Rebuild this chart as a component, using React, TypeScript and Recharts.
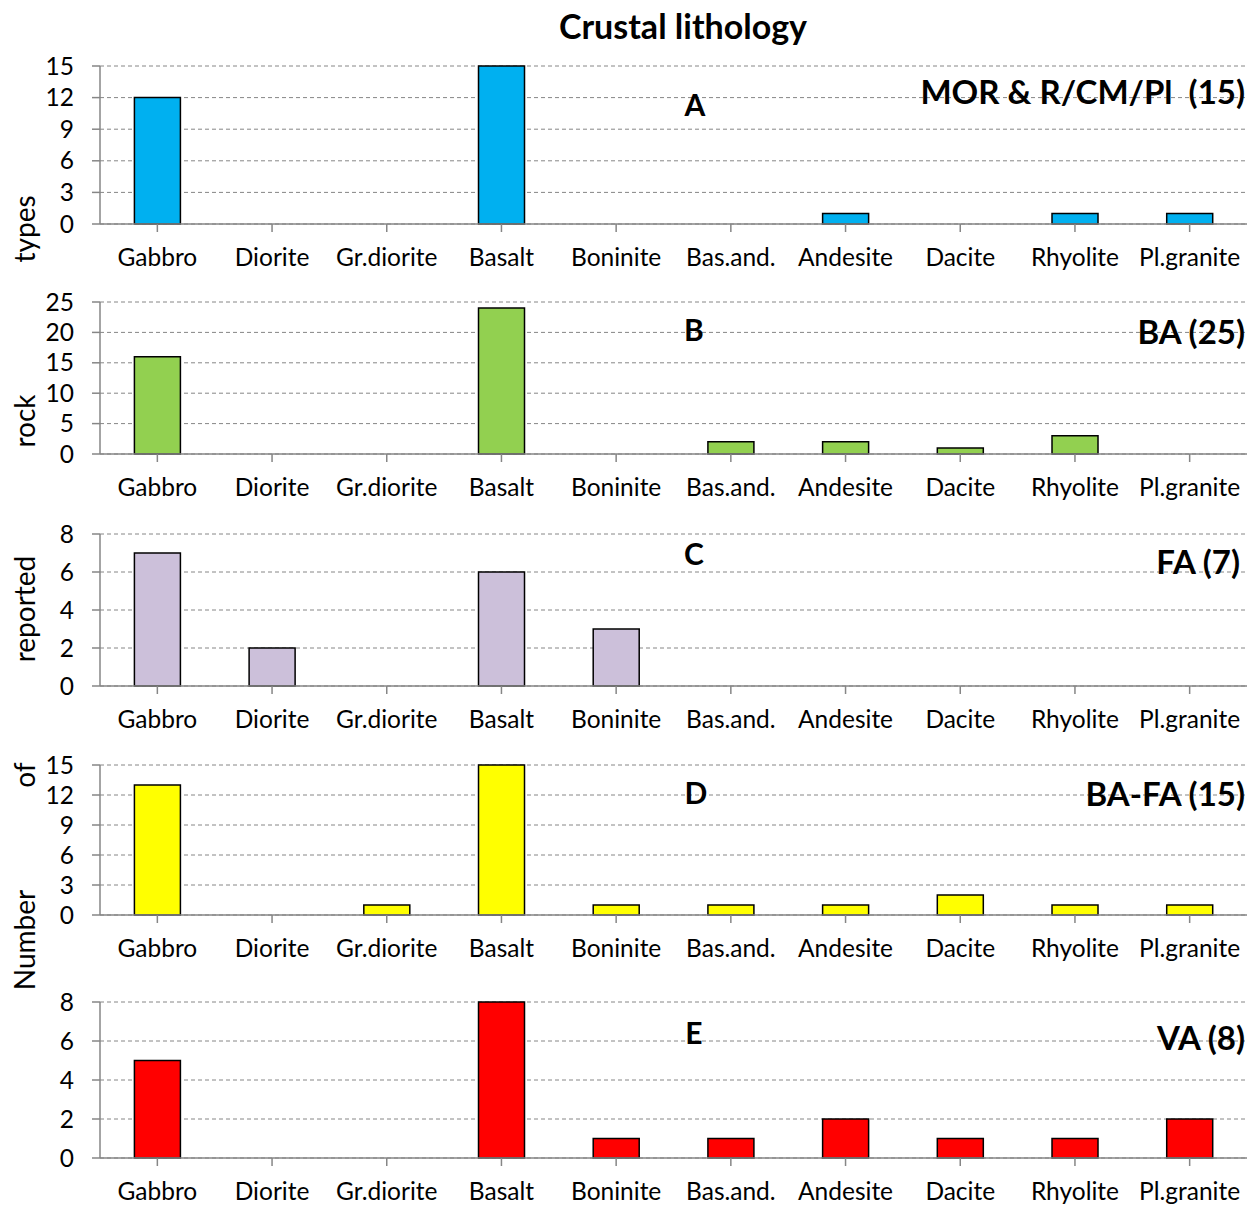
import React from "react";
import { BarChart, Bar, XAxis, YAxis, CartesianGrid } from "recharts";

const categories = ["Gabbro", "Diorite", "Gr.diorite", "Basalt", "Boninite", "Bas.and.", "Andesite", "Dacite", "Rhyolite", "Pl.granite"];
const seriesA = [12, 0, 0, 15, 0, 0, 1, 0, 1, 1];
const seriesB = [16, 0, 0, 24, 0, 2, 2, 1, 3, 0];
const seriesC = [7, 2, 0, 6, 3, 0, 0, 0, 0, 0];
const seriesD = [13, 0, 1, 15, 1, 1, 1, 2, 1, 1];
const seriesE = [5, 0, 0, 8, 1, 1, 2, 1, 1, 2];
const ticksA = [0, 3, 6, 9, 12, 15];
const ticksB = [0, 5, 10, 15, 20, 25];
const ticksC = [0, 2, 4, 6, 8];
const ticksD = [0, 3, 6, 9, 12, 15];
const ticksE = [0, 2, 4, 6, 8];
const title = "Crustal lithology";
const yLabelWords = ["Number", "of", "reported", "rock", "types"];

const FONT = "Lato, 'Open Sans', sans-serif";
const AXIS = "#868686";

type PanelProps = {
  values: number[];
  ticks: number[];
  color: string;
  top: number;
  plotTop: number;
  plotBottom: number;
  letter: string;
  letterX: number;
  letterY: number;
  tag: string;
  tagY: number;
  tagRight: number;
};

function Panel(p: PanelProps) {
  const data = categories.map((c, i) => ({ name: c, v: p.values[i] }));
  const marginTop = p.plotTop - p.top;
  const xAxisH = 56;
  const height = marginTop + (p.plotBottom - p.plotTop) + xAxisH;
  const max = p.ticks[p.ticks.length - 1];
  return (
    <div style={{ position: "absolute", left: 0, top: p.top, width: 1252, height }}>
      <BarChart
        width={1252}
        height={height}
        data={data}
        margin={{ top: marginTop, right: 5, left: 0, bottom: 0 }}
        barCategoryGap="30%"
      >
        <CartesianGrid vertical={false} stroke={AXIS} strokeDasharray="4 3" strokeWidth={1} />
        <XAxis
          dataKey="name"
          height={xAxisH}
          interval={0}
          tickSize={8}
          tickMargin={17}
          stroke={AXIS}
          strokeWidth={1.5}
          tick={{ fill: "#000", fontSize: 24.5, fontFamily: FONT }}
          tickLine={{ stroke: AXIS, strokeWidth: 1.5 }}
        />
        <YAxis
          width={100}
          domain={[0, max]}
          ticks={p.ticks}
          interval={0}
          tickSize={8}
          tickMargin={18}
          stroke={AXIS}
          strokeWidth={1.5}
          tick={{ fill: "#000", fontSize: 24.5, fontFamily: FONT }}
          tickLine={{ stroke: AXIS, strokeWidth: 1.5 }}
        />
        <Bar dataKey="v" fill={p.color} stroke="#000" strokeWidth={1.5} isAnimationActive={false} />
      </BarChart>
      <svg
        width={1252}
        height={height}
        style={{ position: "absolute", left: 0, top: 0, pointerEvents: "none" }}
      >
        <text
          x={p.letterX}
          y={p.letterY - p.top}
          textAnchor="middle"
          dominantBaseline="central"
          fontFamily={FONT}
          fontWeight="bold"
          fontSize={30}
          fill="#000"
        >
          {p.letter}
        </text>
        <text
          x={p.tagRight}
          y={p.tagY - p.top}
          textAnchor="end"
          dominantBaseline="central"
          fontFamily={FONT}
          fontWeight="bold"
          fontSize={33}
          fill="#000"
          style={{ whiteSpace: "pre" }}
        >
          {p.tag}
        </text>
      </svg>
    </div>
  );
}

export default function App() {
  const yLabelPos = [940, 775, 609, 421, 229];
  return (
    <div
      style={{
        position: "absolute",
        left: 0,
        top: 0,
        width: 1252,
        height: 1205,
        background: "#fff",
        fontFamily: FONT,
      }}
    >
      <Panel values={seriesA} ticks={ticksA} color="#00B0F0" top={50} plotTop={66} plotBottom={224}
        letter="A" letterX={695} letterY={104} tag={"MOR & R/CM/Pl  (15)"} tagY={91} tagRight={1245} />
      <Panel values={seriesB} ticks={ticksB} color="#92D050" top={286} plotTop={302} plotBottom={454}
        letter="B" letterX={694} letterY={329} tag="BA (25)" tagY={331} tagRight={1245} />
      <Panel values={seriesC} ticks={ticksC} color="#CCC0DA" top={518} plotTop={534} plotBottom={686}
        letter="C" letterX={694} letterY={553} tag="FA (7)" tagY={561} tagRight={1240} />
      <Panel values={seriesD} ticks={ticksD} color="#FFFF00" top={749} plotTop={765} plotBottom={915}
        letter="D" letterX={696} letterY={792} tag="BA-FA (15)" tagY={793} tagRight={1245} />
      <Panel values={seriesE} ticks={ticksE} color="#FF0000" top={986} plotTop={1002} plotBottom={1158}
        letter="E" letterX={694} letterY={1032} tag="VA (8)" tagY={1037} tagRight={1245} />
      <svg width={1252} height={1205} style={{ position: "absolute", left: 0, top: 0, pointerEvents: "none" }}>
        <text x={683} y={25} textAnchor="middle" dominantBaseline="central" fontFamily={FONT}
          fontWeight="bold" fontSize={34} fill="#000">
          {title}
        </text>
        {yLabelWords.map((w, i) => (
          <text
            key={w}
            x={24}
            y={yLabelPos[i]}
            transform={`rotate(-90 24 ${yLabelPos[i]})`}
            textAnchor="middle"
            dominantBaseline="central"
            fontFamily={FONT}
            fontSize={28}
            fill="#000"
          >
            {w}
          </text>
        ))}
      </svg>
    </div>
  );
}
